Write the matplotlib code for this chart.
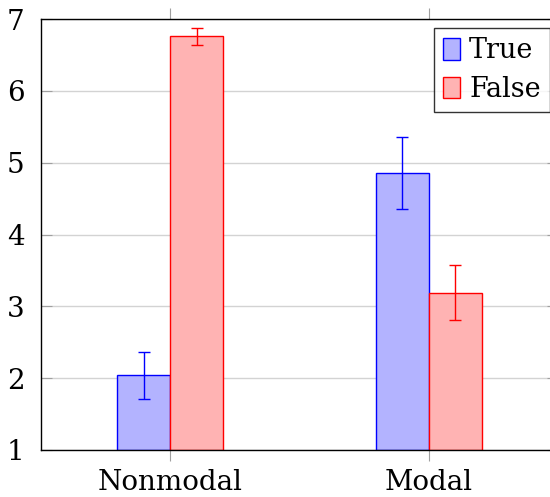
import numpy as np
import matplotlib.pyplot as plt

categories = ["Nonmodal", "Modal"]
true_vals = [2.04, 4.86]
true_err = [0.33, 0.50]
false_vals = [6.76, 3.19]
false_err = [0.12, 0.38]

plt.rcParams["font.family"] = ["DejaVu Serif"]

fig = plt.figure(figsize=(5.5, 4.97), dpi=100)
ax = fig.add_axes([41 / 550, 47 / 497, 517 / 550, 431 / 497])

x = np.arange(len(categories))
w = 0.205
ax.bar(x - w / 2, np.array(true_vals) - 1, w, bottom=1, color="#b3b3ff",
       edgecolor="blue", linewidth=1, label="True", zorder=2)
ax.bar(x + w / 2, np.array(false_vals) - 1, w, bottom=1, color="#ffb3b3",
       edgecolor="red", linewidth=1, label="False", zorder=2)
ax.errorbar(x - w / 2, true_vals, yerr=true_err, fmt="none", ecolor="blue",
            elinewidth=1, capsize=4, capthick=1, zorder=3)
ax.errorbar(x + w / 2, false_vals, yerr=false_err, fmt="none", ecolor="red",
            elinewidth=1, capsize=4, capthick=1, zorder=3)

ax.set_xlim(-0.5, 1.5)
ax.set_ylim(1, 7)
ax.set_xticks(x)
ax.set_xticklabels(categories)
ax.set_yticks(range(1, 8))
ax.yaxis.grid(True, color="#d3d3d3", linewidth=1, zorder=0)
ax.set_axisbelow(True)
ax.tick_params(axis="x", direction="out", length=8, color="#a0a0a0",
               top=True, labelsize=20, pad=6)
ax.tick_params(axis="y", direction="in", length=8, color="#a0a0a0",
               right=True, labelsize=20, pad=12)
for s in ax.spines.values():
    s.set_linewidth(1)

leg = ax.legend(loc="upper left", fontsize=19.5, frameon=True,
                fancybox=False, edgecolor="black", handlelength=0.6,
                handleheight=0.85, handletextpad=0.35, borderpad=0.35,
                labelspacing=0.42, borderaxespad=0)
leg.get_frame().set_linewidth(1)
leg.set_bbox_to_anchor((434 / 550, 1 - 28 / 497), transform=fig.transFigure)

fig.savefig("out.png", dpi=100)
